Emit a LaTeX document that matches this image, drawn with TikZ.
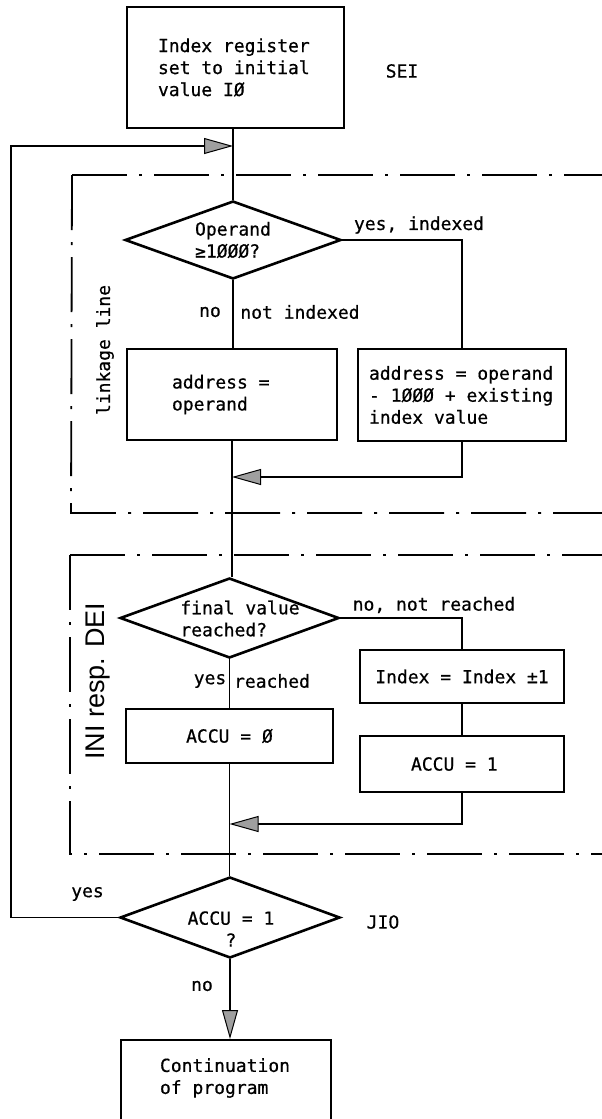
\documentclass[tikz,border=0pt]{standalone}
\usepackage{fontspec}
\setmainfont{DejaVu Sans Mono}[WordSpace={1,0,0},FakeBold=0.6]
\newfontfamily\labsans{Liberation Sans}
\usetikzlibrary{shapes.geometric,arrows.meta}
\begin{document}
\begin{tikzpicture}[x=1pt,y=-1pt,
  txt/.style={font=\fontsize{18}{22}\selectfont, inner sep=0pt, align=flush left},
  box/.style={draw, line width=2pt, rectangle, inner sep=0pt, font=\fontsize{18}{22}\selectfont, align=flush left},
  dia/.style={draw, line width=2.6pt, diamond, inner sep=0pt},
  conn/.style={line width=1.3pt},
  tip/.style={-{Triangle[length=29pt,width=16pt,fill=gray!75,line width=1pt]}},
  frame/.style={line width=1.8pt, dash pattern=on 55pt off 12pt on 3pt off 12pt},
]
\useasboundingbox (0,0) rectangle (602,1119);

% frames
\draw[frame] (72,175) -- (602,175);
\draw[frame] (72,175) -- (71,513) -- (602,513);
\draw[frame] (70,555) -- (602,555);
\draw[frame] (70,555) -- (70,854) -- (602,854);

% boxes
\node[box, minimum width=217pt, minimum height=121pt, text width=155pt] (top) at (235.5,67.5) {Index register\\set to initial\\value IØ};
\node[dia, minimum width=216pt, minimum height=78pt] (d1) at (233,240) {};
\node[txt] (d1t) at (233,240) {Operand\\≥1ØØØ?};
\node[box, minimum width=210pt, minimum height=91pt, text width=120pt] (a1) at (232,394.5) {address =\\operand};
\node[box, minimum width=208pt, minimum height=92pt, text width=186pt] (a2) at (462,395) {address = operand\\- 1ØØØ + existing\\index value};

\node[dia, minimum width=219pt, minimum height=80pt] (d2) at (229.5,618) {};
\node[txt] (d2t) at (240,618.5) {final value\\reached?};
\node[box, minimum width=204pt, minimum height=53pt] (idx) at (462,676.5) {Index = Index ±1};
\node[box, minimum width=204pt, minimum height=56pt, text width=102pt] (acc1) at (462,764) {ACCU = 1};
\node[box, minimum width=207pt, minimum height=54pt, align=center] (acc0) at (229.5,736) {ACCU = Ø};

\node[dia, minimum width=220pt, minimum height=81pt] (d3) at (230,917.5) {};
\node[txt, align=center] (d3t) at (231,929) {ACCU = 1\\?};
\node[box, minimum width=210pt, minimum height=140pt, anchor=north] (last) at (226,1039) {};
\node[txt, text width=132pt] (lastt) at (226,1078) {Continuation\\of program};

% connectors
\coordinate (lin) at (233,146);
\coordinate (lc1) at (11,917.5);
\coordinate (lc2) at (11,146);
\coordinate (m1) at (232,477);
\coordinate (m2) at (229.5,824);
\draw[conn] (top.south -| d1.north) -- (d1.north);
\draw[conn,tip] (d3.west) -- (lc1) -- (lc2) -- (lin);
\draw[conn] (d1.south) -- (d1.south |- a1.north);
\draw[conn] (d1.east) -| (a2.north);
\draw[conn] (a1.south) -- (a1.south |- d2.north);
\draw[conn,tip] (a2.south) -- (a2.south |- m1) -- (m1);
\draw[conn] (d2.south) -- (d2.south |- acc0.north);
\draw[conn] (d2.east) -| (idx.north);
\draw[conn] (idx.south) -- (acc1.north);
\draw[conn,tip] (acc1.south) -- (acc1.south |- m2) -- (m2);
\draw[conn] (acc0.south) -- (acc0.south |- d3.north);
\draw[conn,tip] (d3.south) -- (d3.south |- last.north);

% labels
\node[txt] (sei) at (402,71) {SEI};
\node[txt] (jio) at (383,922) {JIO};
\node[txt] (yi) at (419,225) {yes, indexed};
\node[txt] (no1) at (210,312) {no};
\node[txt] (ni) at (300,312) {not indexed};
\node[txt] (nnr) at (434,605) {no, not reached};
\node[txt] (yes2) at (210,681) {yes};
\node[txt] (rch) at (272,681) {reached};
\node[txt] (yes3) at (87.5,894) {yes};
\node[txt] (no3) at (202,986) {no};
\node[txt, rotate=90] (link) at (105,350) {linkage line};
\node[font=\labsans\fontsize{27}{30}\selectfont, rotate=90, inner sep=0pt] (ini) at (98,681) {INI resp. DEI};
\end{tikzpicture}
\end{document}
